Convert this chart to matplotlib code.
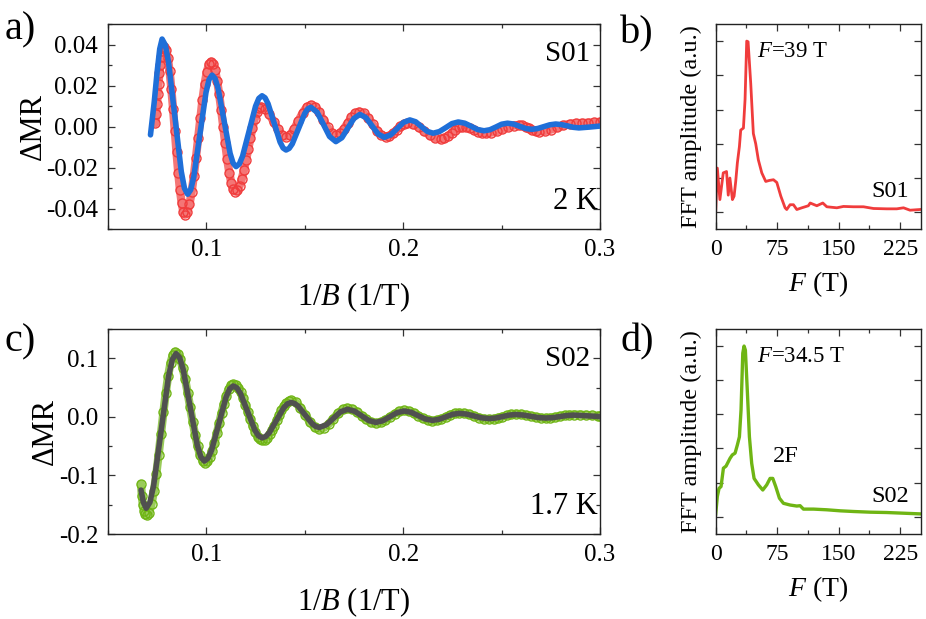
import numpy as np
import matplotlib
matplotlib.use("Agg")
from matplotlib import pyplot as plt
from matplotlib.ticker import MultipleLocator, NullFormatter

plt.rcParams['font.family'] = ['Liberation Serif', 'DejaVu Serif']
plt.rcParams['mathtext.fontset'] = 'custom'
plt.rcParams['mathtext.rm'] = 'Liberation Serif'
plt.rcParams['mathtext.it'] = 'Liberation Serif:italic'
plt.rcParams['axes.unicode_minus'] = False

# a) S01 oscillation data, 2 K  (1/B, dMR)
s01_data = [
    (0.0741, 0.0017), (0.0745, 0.006), (0.0749, 0.011), (0.0753, 0.016), (0.0757, 0.021),
    (0.0761, 0.026), (0.0765, 0.030), (0.0770, 0.034), (0.0776, 0.037), (0.0781, 0.0385),
    (0.0787, 0.039),
    (0.07958, 0.0376), (0.08045, 0.0335), (0.08133, 0.0270), (0.0822, 0.0185), (0.08308, 0.0086),
    (0.08395, -0.002), (0.08483, -0.0126), (0.0857, -0.0225), (0.08658, -0.0310), (0.08745, -0.0375),
    (0.08833, -0.0416), (0.0892, -0.043),
    (0.0903, -0.0417), (0.0914, -0.0380), (0.0925, -0.0321), (0.0936, -0.0243), (0.0947, -0.0153),
    (0.0958, -0.0057), (0.0969, 0.0040), (0.0980, 0.0131), (0.0991, 0.0208), (0.1002, 0.0267),
    (0.1013, 0.0304), (0.1024, 0.0317),
    (0.10343, 0.0306), (0.10445, 0.0275), (0.10548, 0.0224), (0.1065, 0.0159), (0.10753, 0.0082),
    (0.10855, 0.0), (0.10958, -0.0082), (0.1106, -0.0159), (0.11163, -0.0224), (0.11265, -0.0275),
    (0.11368, -0.0306), (0.1147, -0.0317),
    (0.11579, -0.0310), (0.11688, -0.0289), (0.11798, -0.0256), (0.11907, -0.0213), (0.12016, -0.0163),
    (0.12125, -0.0110), (0.12234, -0.0056), (0.12343, -0.0006), (0.12453, 0.0037), (0.12562, 0.0070),
    (0.12671, 0.0091), (0.1278, 0.0098),
    (0.12992, 0.0088), (0.13203, 0.0061), (0.13415, 0.0025), (0.13627, -0.0012), (0.13838, -0.0039),
    (0.1405, -0.0049),
    (0.1426, -0.0039), (0.1447, -0.0010), (0.1468, 0.0029), (0.1489, 0.0067), (0.1510, 0.0096),
    (0.1531, 0.0106),
    (0.15522, 0.0096), (0.15733, 0.0070), (0.15945, 0.0033), (0.16157, -0.0004), (0.16368, -0.0030),
    (0.1658, -0.004),
    (0.16778, -0.0032), (0.16977, -0.0012), (0.17175, 0.0017), (0.17373, 0.0045), (0.17572, 0.0065),
    (0.1777, 0.0073),
    (0.17995, 0.0065), (0.1822, 0.0043), (0.18445, 0.0012), (0.1867, -0.0019), (0.18895, -0.0041),
    (0.1912, -0.0049),
    (0.19303, -0.0045), (0.19487, -0.0033), (0.1967, -0.0016), (0.19853, 0.0001), (0.20037, 0.0013),
    (0.2022, 0.0017),
    (0.20502, 0.0012), (0.20783, -0.0003), (0.21065, -0.0022), (0.21347, -0.0042), (0.21628, -0.0056),
    (0.2191, -0.0061),
    (0.22093, -0.0057), (0.22277, -0.0046), (0.2246, -0.0031), (0.22643, -0.0015), (0.22827, -0.0004),
    (0.2301, 0.0),
    (0.23208, -0.0002), (0.23407, -0.0008), (0.23605, -0.0016), (0.23803, -0.0024), (0.24002, -0.0030),
    (0.242, -0.0032),
    (0.24482, -0.0029), (0.24763, -0.0022), (0.25045, -0.0012), (0.25327, -0.0002), (0.25608, 0.0005),
    (0.2589, 0.0008),
    (0.26058, 0.0006), (0.26227, 0.0), (0.26395, -0.0008), (0.26563, -0.0016), (0.26732, -0.0022),
    (0.269, -0.0024),
    (0.27212, -0.0021), (0.27523, -0.0014), (0.27835, -0.0004), (0.28147, 0.0007), (0.28458, 0.0014),
    (0.2877, 0.0017),
    (0.2908, 0.0018), (0.2939, 0.0019), (0.2970, 0.0021), (0.3, 0.0024),
]

# a) LK fit for S01
s01_fit = [
    (0.0716, -0.004), (0.0735, 0.012), (0.0750, 0.027), (0.0763, 0.038), (0.0775, 0.0428),
    (0.07913, 0.0399), (0.08075, 0.0317), (0.0840, 0.0049), (0.08725, -0.0219), (0.08887, -0.0301),
    (0.0905, -0.033),
    (0.09205, -0.0308), (0.0936, -0.0245), (0.0967, -0.0039), (0.0998, 0.0167), (0.10135, 0.0230),
    (0.1029, 0.0252),
    (0.10443, 0.0235), (0.10595, 0.0187), (0.1090, 0.0029), (0.11205, -0.0130), (0.11358, -0.0178),
    (0.1151, -0.0195),
    (0.11675, -0.0182), (0.1184, -0.0144), (0.1217, -0.0022), (0.1250, 0.0100), (0.12665, 0.0138),
    (0.1283, 0.0151),
    (0.12983, 0.0141), (0.13135, 0.0112), (0.1344, 0.0019), (0.13745, -0.0075), (0.13898, -0.0104),
    (0.1405, -0.0114),
    (0.14208, -0.0106), (0.14365, -0.0084), (0.1468, -0.0010), (0.14995, 0.0064), (0.15153, 0.0087),
    (0.1531, 0.0095),
    (0.1563, 0.0070), (0.1595, 0.0011), (0.1626, -0.0048), (0.1658, -0.0073),
    (0.16885, -0.0054), (0.1719, -0.0007), (0.17495, 0.0040), (0.178, 0.006),
    (0.1811, 0.0044), (0.1842, 0.0004), (0.1873, -0.0036), (0.1904, -0.0052),
    (0.19365, -0.0040), (0.1969, -0.0010), (0.20015, 0.0021), (0.2034, 0.0033),
    (0.20635, 0.0024), (0.2093, 0.0), (0.21225, -0.0023), (0.2152, -0.0032),
    (0.2184, -0.0024), (0.2216, -0.0005), (0.2248, 0.0015), (0.228, 0.0023),
    (0.23128, 0.0017), (0.23455, 0.0002), (0.23783, -0.0014), (0.2411, -0.002),
    (0.24408, -0.0015), (0.24705, -0.0002), (0.25003, 0.0012), (0.253, 0.0017),
    (0.25608, 0.0013), (0.25915, 0.0002), (0.26223, -0.0009), (0.2653, -0.0013),
    (0.26835, -0.0009), (0.2714, 0.0), (0.27445, 0.0009), (0.2775, 0.0013),
    (0.28045, 0.0010), (0.2834, 0.0004), (0.28635, -0.0003), (0.2893, -0.0006),
    (0.2946, -0.0002), (0.3, 0.0003),
]

# b) FFT of S01
s01_fft_f = [0, 2, 5.1, 9.2, 13.2, 15.3, 17.3, 20.4, 22.4, 24.4,
             26.4, 28.9, 30.5, 33.8, 35.8, 37.8, 39.5, 42.7, 45.9, 48.8,
             52.0, 56.2, 61.0, 65.5, 70.4, 74.5, 79.4, 84.6, 86.6, 90.7,
             94.8, 98.9, 105.0, 113.0, 115.2, 123.3, 130.6, 135.5, 147.7, 155.8,
             168.0, 180.2, 192.4, 208.6, 220.8, 229.0, 237.0, 249.0]
s01_fft_amp = [0.03, 1.29, 0.37, 1.15, 1.19, 0.5, 1.0, 0.37, 0.47, 0.9,
               1.44, 1.92, 2.4, 2.46, 3.3, 5.0, 4.98, 3.77, 2.3, 2.0,
               1.53, 1.15, 0.9, 0.93, 0.95, 0.87, 0.47, 0.13, 0.08, 0.22,
               0.22, 0.08, 0.13, 0.19, 0.27, 0.19, 0.27, 0.16, 0.13, 0.17,
               0.16, 0.16, 0.11, 0.1, 0.1, 0.13, 0.06, 0.08]

# c) S02 oscillation data, 1.7 K
s02_data = [
    (0.0668, -0.115), (0.0672, -0.135), (0.0677, -0.150), (0.0683, -0.160), (0.0690, -0.166),
    (0.0697, -0.168),
    (0.07091, -0.1633), (0.07212, -0.1493), (0.07333, -0.1271), (0.07453, -0.0983), (0.07574, -0.0646),
    (0.07695, -0.0285), (0.07816, 0.0076), (0.07937, 0.0413), (0.08058, 0.0701), (0.08178, 0.0923),
    (0.08299, 0.1063), (0.0842, 0.111),
    (0.08546, 0.1078), (0.08672, 0.0983), (0.08798, 0.0833), (0.08923, 0.0638), (0.09049, 0.0410),
    (0.09175, 0.0165), (0.09301, -0.0080), (0.09427, -0.0308), (0.09553, -0.0503), (0.09678, -0.0653),
    (0.09804, -0.0748), (0.0993, -0.078),
    (0.1005, -0.0757), (0.1017, -0.0690), (0.1029, -0.0584), (0.1041, -0.0445), (0.1053, -0.0284),
    (0.1065, -0.0110), (0.1077, 0.0064), (0.1089, 0.0225), (0.1101, 0.0364), (0.1113, 0.0470),
    (0.1125, 0.0537), (0.1137, 0.056),
    (0.11493, 0.0544), (0.11617, 0.0496), (0.1174, 0.0419), (0.11863, 0.0320), (0.11987, 0.0204),
    (0.1211, 0.0080), (0.12233, -0.0044), (0.12357, -0.0160), (0.1248, -0.0259), (0.12603, -0.0336),
    (0.12727, -0.0384), (0.1285, -0.040),
    (0.12971, -0.0388), (0.13092, -0.0354), (0.13213, -0.0300), (0.13333, -0.0230), (0.13454, -0.0148),
    (0.13575, -0.0060), (0.13696, 0.0028), (0.13817, 0.0110), (0.13938, 0.0180), (0.14058, 0.0234),
    (0.14179, 0.0268), (0.143, 0.028),
    (0.1454, 0.0247), (0.1478, 0.0158), (0.1502, 0.0035), (0.1526, -0.0088), (0.1550, -0.0177),
    (0.1574, -0.021),
    (0.15978, -0.0186), (0.16217, -0.0120), (0.16455, -0.0030), (0.16693, 0.0060), (0.16932, 0.0126),
    (0.1717, 0.015),
    (0.1741, 0.0133), (0.1765, 0.0085), (0.1789, 0.0020), (0.1813, -0.0045), (0.1837, -0.0093),
    (0.1861, -0.011),
    (0.1885, -0.0095), (0.1909, -0.0055), (0.1933, 0.0), (0.1957, 0.0055), (0.1981, 0.0095),
    (0.2005, 0.011),
    (0.2029, 0.0098), (0.2053, 0.0065), (0.2077, 0.0020), (0.2101, -0.0025), (0.2125, -0.0058),
    (0.2149, -0.007),
    (0.21715, -0.0061), (0.2194, -0.0035), (0.22165, 0.0), (0.2239, 0.0035), (0.22615, 0.0061),
    (0.2284, 0.007),
    (0.23095, 0.0063), (0.2335, 0.0043), (0.23605, 0.0015), (0.2386, -0.0013), (0.24115, -0.0033),
    (0.2437, -0.004),
    (0.24595, -0.0034), (0.2482, -0.0018), (0.25045, 0.0005), (0.2527, 0.0028), (0.25495, 0.0044),
    (0.2572, 0.005),
    (0.25973, 0.0045), (0.26227, 0.0033), (0.2648, 0.0015), (0.26733, -0.0003), (0.26987, -0.0015),
    (0.2724, -0.002),
    (0.2748, -0.0016), (0.2772, -0.0005), (0.2796, 0.0010), (0.2820, 0.0025), (0.2844, 0.0036),
    (0.2868, 0.004),
    (0.2898, 0.0038), (0.2928, 0.0032), (0.2958, 0.0025), (0.2988, 0.0017), (0.3, 0.0015),
]

# c) LK fit for S02
s02_fit = [
    (0.0668, -0.125), (0.0680, -0.146), (0.0694, -0.156),
    (0.0713, -0.146), (0.0732, -0.1173), (0.0770, -0.0240), (0.0808, 0.0693), (0.0827, 0.098),
    (0.0846, 0.108),
    (0.0864, 0.1011), (0.0882, 0.0811), (0.0918, 0.0163), (0.0954, -0.0486), (0.0972, -0.0685),
    (0.099, -0.0755),
    (0.10084, -0.0706), (0.10268, -0.0567), (0.10635, -0.0114), (0.11003, 0.0340), (0.11186, 0.0479),
    (0.1137, 0.0528),
    (0.11553, 0.0494), (0.11735, 0.0398), (0.1210, 0.0085), (0.12465, -0.0228), (0.12648, -0.0324),
    (0.1283, -0.0358),
    (0.13014, -0.0335), (0.13198, -0.0270), (0.13565, -0.0057), (0.13933, 0.0157), (0.14116, 0.0222),
    (0.143, 0.0245),
    (0.1448, 0.0229), (0.1466, 0.0183), (0.1502, 0.0033), (0.1538, -0.0118), (0.1556, -0.0164),
    (0.1574, -0.018),
    (0.16098, -0.0135), (0.16455, -0.0025), (0.16813, 0.0085), (0.1717, 0.013),
    (0.1753, 0.0097), (0.1789, 0.0018), (0.1825, -0.0062), (0.1861, -0.0095),
    (0.1897, -0.0066), (0.1933, 0.0003), (0.1969, 0.0072), (0.2005, 0.010),
    (0.2041, 0.0077), (0.2077, 0.0020), (0.2113, -0.0037), (0.2149, -0.006),
    (0.21828, -0.0042), (0.22165, 0.0), (0.22503, 0.0042), (0.2284, 0.006),
    (0.23223, 0.0047), (0.23605, 0.0015), (0.23988, -0.0017), (0.2437, -0.003),
    (0.24708, -0.0020), (0.25045, 0.0005), (0.25383, 0.0030), (0.2572, 0.004),
    (0.261, 0.0031), (0.2648, 0.0010), (0.2686, -0.0011), (0.2724, -0.002),
    (0.276, -0.0013), (0.2796, 0.0005), (0.2832, 0.0023), (0.2868, 0.003),
    (0.2934, 0.0018), (0.3, 0.0005),
]

# d) FFT of S02
s02_fft_f = [0, 2, 4.1, 6.5, 9.4, 12.6, 17.5, 20.3, 23.6, 26.4,
             28.9, 30.9, 33.0, 34.6, 36.2, 38.7, 41.1, 43.9, 46.8, 52.1,
             57.4, 62.2, 66.3, 69.6, 73.2, 77.7, 82.6, 90.7, 98.9, 102.9,
             107.0, 119.2, 135.5, 151.8, 168.0, 188.4, 208.6, 229.0, 249.4]
s02_fft_amp = [0.08, 0.59, 0.83, 0.88, 1.42, 1.48, 1.71, 1.81, 1.86, 2.1,
               2.34, 3.13, 4.79, 5.0, 4.88, 3.61, 2.34, 1.56, 1.12, 0.93,
               0.78, 0.93, 1.12, 1.12, 0.88, 0.54, 0.39, 0.34, 0.31, 0.32,
               0.22, 0.22, 0.2, 0.17, 0.15, 0.13, 0.12, 0.1, 0.08]

red = "#f03c3c"
blue = "#1f6fd8"
green = "#6fb514"
gray = "#505050"

TICK_FS = 18
LABEL_FS = 22


def style_axes(ax, tick_fs=TICK_FS):
    ax.tick_params(which='both', direction='in', top=True, right=True,
                   labelsize=tick_fs, pad=7, width=0.9, color='#333333')
    ax.tick_params(which='major', length=5)
    ax.tick_params(which='minor', length=3)
    for s in ax.spines.values():
        s.set_linewidth(1.0)
        s.set_color('#222222')


def osc_panel(ax, data, fit, dcolor, fcolor, ylim, ymaj, ymin, sample, temp):
    d = np.array(data)
    f = np.array(fit)
    # measured points: dense open circles forming a band
    ax.plot(d[:, 0], d[:, 1], '-', color=dcolor, lw=6, alpha=0.7,
            solid_joinstyle='round', solid_capstyle='round', zorder=1)
    ax.plot(d[:, 0], d[:, 1], 'o', ms=6.5, mfc='none', mec=dcolor, mew=1.0, zorder=2)
    ax.plot(f[:, 0], f[:, 1], '-', color=fcolor, lw=4, solid_joinstyle='round',
            solid_capstyle='round', zorder=3)
    ax.set_xlim(0.05, 0.3)
    ax.set_ylim(*ylim)
    ax.xaxis.set_major_locator(MultipleLocator(0.1))
    ax.xaxis.set_minor_locator(MultipleLocator(0.05))
    ax.yaxis.set_major_locator(MultipleLocator(ymaj))
    ax.yaxis.set_minor_locator(MultipleLocator(ymin))
    style_axes(ax)
    ax.set_xlabel("1/$B$ (1/T)", fontsize=LABEL_FS, labelpad=14)
    ax.set_ylabel("ΔMR", fontsize=LABEL_FS, labelpad=-1)
    ax.text(0.98, 0.855, sample, transform=ax.transAxes, ha='right', va='center', fontsize=21)
    ax.text(0.995, 0.135, temp, transform=ax.transAxes, ha='right', va='center', fontsize=22)


def fft_panel(ax, f, amp, color, lw, ylim, peak_txt, sample):
    ax.plot(f, amp, '-', color=color, lw=lw, solid_joinstyle='round')
    ax.set_xlim(0, 250)
    ax.set_ylim(*ylim)
    ax.xaxis.set_major_locator(MultipleLocator(75))
    ax.xaxis.set_minor_locator(MultipleLocator(37.5))
    ax.yaxis.set_major_locator(MultipleLocator(1))
    ax.yaxis.set_major_formatter(NullFormatter())
    style_axes(ax, tick_fs=17)
    ax.set_xlabel("$F$ (T)", fontsize=20, labelpad=7)
    ax.set_ylabel("FFT amplitude (a.u.)", fontsize=17.5, labelpad=3)
    ax.text(0.2, 0.865, peak_txt, transform=ax.transAxes, ha='left', va='center', fontsize=16.5)
    ax.text(0.945, 0.185, sample, transform=ax.transAxes, ha='right', va='center', fontsize=17.5)


fig = plt.figure(figsize=(9.26, 6.19), dpi=100)

ax_a = fig.add_axes([0.1166, 0.630, 0.5313, 0.3307])
ax_b = fig.add_axes([0.7729, 0.630, 0.2214, 0.3307])
ax_c = fig.add_axes([0.1166, 0.1373, 0.5313, 0.3312])
ax_d = fig.add_axes([0.7729, 0.1373, 0.2214, 0.3312])

osc_panel(ax_a, s01_data, s01_fit, red, blue, (-0.05, 0.05), 0.02, 0.01, "S01", "2 K")
osc_panel(ax_c, s02_data, s02_fit, green, gray, (-0.2, 0.15), 0.1, 0.05, "S02", "1.7 K")

fft_panel(ax_b, s01_fft_f, s01_fft_amp, red, 2.0, (-0.49, 5.49), "$F$=39 T", "S01")
fft_panel(ax_d, s02_fft_f, s02_fft_amp, green, 2.4, (-0.51, 5.5), "$F$=34.5 T", "S02")
ax_d.text(0.278, 0.376, "2F", transform=ax_d.transAxes, ha='left', va='center', fontsize=17.5)

for txt, x, y in [("a)", 0.005, 0.952), ("b)", 0.670, 0.945),
                  ("c)", 0.005, 0.448), ("d)", 0.670, 0.448)]:
    fig.text(x, y, txt, fontsize=29, ha='left', va='center')

fig.savefig("out.png", dpi=100)
